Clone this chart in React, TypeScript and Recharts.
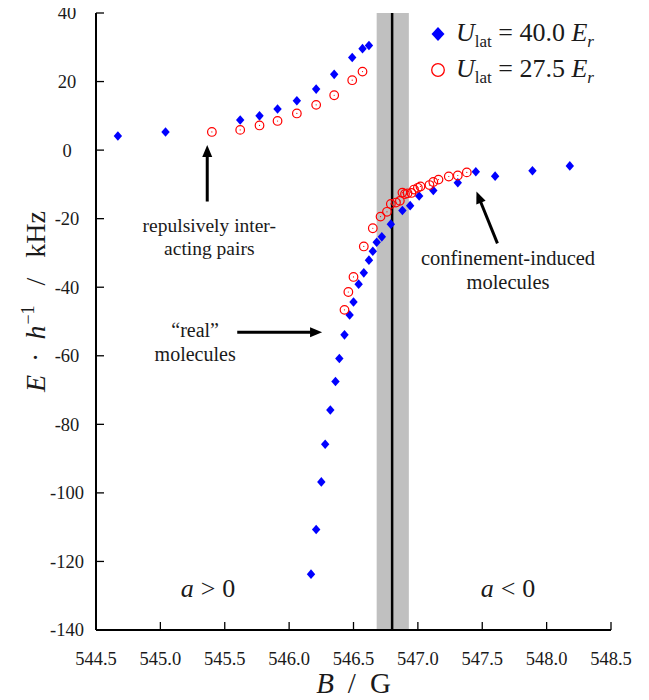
import React from 'react';
import {
  ScatterChart,
  Scatter,
  XAxis,
  YAxis,
  ReferenceArea,
  ReferenceLine,
  ReferenceDot,
  Legend,
} from 'recharts';

const FONT = 'Liberation Serif, "Times New Roman", Times, Tinos, "DejaVu Serif", serif';
const INK = '#1a1a1a';
const BLUE = '#0000ff';
const RED = '#ff0000';

// Tick labels
const xTicks = [544.5, 545.0, 545.5, 546.0, 546.5, 547.0, 547.5, 548.0, 548.5];
const yTicks = [-140, -120, -100, -80, -60, -40, -20, 0, 20, 40];

// U_lat = 40.0 E_r  (blue diamonds)
const blueUpperB = [544.67, 545.04, 545.62, 545.77, 545.91, 546.06, 546.21, 546.35, 546.49, 546.57, 546.62];
const blueUpperE = [4.1, 5.3, 8.8, 10.0, 12.0, 14.4, 17.8, 22.1, 27.0, 29.6, 30.5];
const blueLowerB = [546.17, 546.21, 546.25, 546.28, 546.32, 546.36, 546.39, 546.43, 546.47, 546.50, 546.54, 546.58, 546.62, 546.65, 546.68, 546.72, 546.79, 546.88, 546.94, 547.01, 547.12, 547.31, 547.45, 547.60, 547.89, 548.18];
const blueLowerE = [-123.7, -110.7, -96.8, -85.8, -75.8, -67.5, -60.8, -53.9, -48.1, -44.3, -39.1, -35.8, -32.1, -29.5, -26.9, -25.3, -21.6, -17.6, -16.2, -13.4, -11.8, -9.5, -6.3, -7.6, -6.0, -4.6];

// U_lat = 27.5 E_r  (red open circles)
const redUpperB = [545.40, 545.62, 545.77, 545.91, 546.06, 546.21, 546.35, 546.49, 546.57];
const redUpperE = [5.3, 5.9, 7.2, 8.5, 10.7, 13.2, 16.0, 20.4, 22.9];
const redLowerB = [546.43, 546.46, 546.50, 546.58, 546.65, 546.71, 546.76, 546.79, 546.83, 546.86, 546.88, 546.90, 546.92, 546.95, 546.97, 547.00, 547.02, 547.09, 547.12, 547.16, 547.24, 547.31, 547.38];
const redLowerE = [-46.6, -41.4, -37.0, -28.1, -22.8, -19.4, -18.0, -15.7, -15.3, -14.8, -12.4, -12.8, -12.6, -12.5, -11.5, -11.0, -10.6, -10.2, -9.3, -8.6, -7.7, -7.4, -6.5];

// Resonance position and width
const resonanceB = 546.8;
const resonanceLo = 546.68;
const resonanceHi = 546.93;

const toPoints = (bs: number[], es: number[]) => bs.map((b, i) => ({ b, e: es[i] }));
const blueData = [...toPoints(blueUpperB, blueUpperE), ...toPoints(blueLowerB, blueLowerE)];
const redData = [...toPoints(redUpperB, redUpperE), ...toPoints(redLowerB, redLowerE)];

const Diamond = (p: any) => {
  const { cx, cy } = p;
  if (cx == null || cy == null) return null;
  return (
    <path
      d={`M${cx},${cy - 4.8}L${cx + 4.2},${cy}L${cx},${cy + 4.8}L${cx - 4.2},${cy}Z`}
      fill={BLUE}
    />
  );
};

const OpenCircle = (p: any) => {
  const { cx, cy } = p;
  if (cx == null || cy == null) return null;
  return (
    <g>
      <circle cx={cx} cy={cy} r={4.3} fill="none" stroke={RED} strokeWidth={1.2} />
      <circle cx={cx} cy={cy} r={0.6} fill={RED} />
    </g>
  );
};

const Arrow = (p: any) => {
  const { x1, y1, x2, y2 } = p;
  if ([x1, y1, x2, y2].some((v) => v == null || isNaN(v))) return null;
  const dx = x2 - x1;
  const dy = y2 - y1;
  const L = Math.hypot(dx, dy) || 1;
  const ux = dx / L;
  const uy = dy / L;
  const hl = 12;
  const hw = 5;
  const bx = x2 - ux * hl;
  const by = y2 - uy * hl;
  return (
    <g>
      <line x1={x1} y1={y1} x2={bx + ux} y2={by + uy} stroke="#000" strokeWidth={3} />
      <polygon
        points={`${x2},${y2} ${bx - uy * hw},${by + ux * hw} ${bx + uy * hw},${by - ux * hw}`}
        fill="#000"
      />
    </g>
  );
};

const textLabel = (lines: string[], gap: number, size = 21) => (p: any) => {
  const { cx, cy } = p;
  if (cx == null || cy == null) return null;
  return (
    <text x={cx} y={cy} textAnchor="middle" fontFamily={FONT} fontSize={size} fill={INK}>
      {lines.map((l, i) => (
        <tspan key={i} x={cx} dy={i === 0 ? 0 : gap}>
          {l}
        </tspan>
      ))}
    </text>
  );
};

const signLabel = (op: string) => (p: any) => {
  const { cx, cy } = p;
  if (cx == null || cy == null) return null;
  return (
    <text x={cx} y={cy} textAnchor="middle" fontFamily={FONT} fontSize={26} fill={INK}>
      <tspan fontStyle="italic">a</tspan>
      <tspan dx={7}>{op}</tspan>
      <tspan dx={7}>0</tspan>
    </text>
  );
};

const BottomTick = (p: any) => {
  const { x, y, payload } = p;
  return (
    <g>
      <line x1={x} y1={y} x2={x} y2={y - 8} stroke="#000" strokeWidth={1.3} />
      <text x={x} y={y + 35} textAnchor="middle" fontFamily={FONT} fontSize={18.5} fill={INK}>
        {Number(payload.value).toFixed(1)}
      </text>
    </g>
  );
};

const TopTick = (p: any) => {
  const { x, y } = p;
  return <line x1={x} y1={y} x2={x} y2={y + 8} stroke="#000" strokeWidth={1.3} />;
};

const LeftTick = (p: any) => {
  const { x, y, payload } = p;
  return (
    <g>
      <line x1={x} y1={y} x2={x + 8} y2={y} stroke="#000" strokeWidth={1.3} />
      <text x={x - 29} y={y} dy="0.35em" textAnchor="middle" fontFamily={FONT} fontSize={18.5} fill={INK}>
        {String(payload.value)}
      </text>
    </g>
  );
};

const RightTick = (p: any) => {
  const { x, y } = p;
  return <line x1={x} y1={y} x2={x - 8} y2={y} stroke="#000" strokeWidth={1.3} />;
};

const XLabel = (props: any) => {
  const vb = props.viewBox || { x: 88, y: 630, width: 515, height: 40 };
  const cx = vb.x + vb.width / 2;
  const cy = vb.y + 63;
  return (
    <text x={cx} y={cy} textAnchor="middle" fontFamily={FONT} fontSize={29} fill={INK}>
      <tspan fontStyle="italic">B</tspan>
      <tspan dx={14}>/</tspan>
      <tspan dx={14}>G</tspan>
    </text>
  );
};

const YLabel = (props: any) => {
  const vb = props.viewBox || { x: 28, y: 13, width: 60, height: 617 };
  const cx = vb.x - 1;
  const cy = vb.y + vb.height / 2 - 20;
  return (
    <text
      x={cx}
      y={cy}
      textAnchor="middle"
      fontFamily={FONT}
      fontSize={28}
      fill={INK}
      transform={`rotate(-90, ${cx}, ${cy})`}
      dy="0.35em"
    >
      <tspan fontStyle="italic">E</tspan>
      <tspan dx={13}>·</tspan>
      <tspan dx={13} fontStyle="italic">h</tspan>
      <tspan fontSize={18} dy={-11} dx={1}>−1</tspan>
      <tspan dy={11} dx={20}>/</tspan>
      <tspan dx={20}>kHz</tspan>
    </text>
  );
};

const LegendContent = () => {
  const row: React.CSSProperties = { display: 'flex', alignItems: 'center', height: 36, whiteSpace: 'nowrap' };
  const sub: React.CSSProperties = { fontSize: 17, position: 'relative', top: 6 };
  return (
    <div style={{ fontFamily: FONT, fontSize: 26, color: INK, lineHeight: '36px' }}>
      <div style={row}>
        <svg width={20} height={20} style={{ flex: 'none' }}>
          <path d="M10,3L16.5,10L10,17L3.5,10Z" fill={BLUE} />
        </svg>
        <span style={{ marginLeft: 8 }}>
          <i>U</i>
          <span style={sub}>lat</span>
          {' = 40.0 '}
          <i>E</i>
          <i style={sub}>r</i>
        </span>
      </div>
      <div style={row}>
        <svg width={20} height={20} style={{ flex: 'none' }}>
          <circle cx={10} cy={10} r={6.3} fill="none" stroke={RED} strokeWidth={1.3} />
        </svg>
        <span style={{ marginLeft: 8 }}>
          <i>U</i>
          <span style={sub}>lat</span>
          {' = 27.5 '}
          <i>E</i>
          <i style={sub}>r</i>
        </span>
      </div>
    </div>
  );
};

export default function App() {
  return (
    <div style={{ width: 633, height: 698, marginTop: -8 }}>
      <ScatterChart width={633} height={698} margin={{ top: 13, right: 30, bottom: 28, left: 28 }}>
        <XAxis
          xAxisId={0}
          dataKey="b"
          type="number"
          domain={[544.5, 548.5]}
          ticks={xTicks}
          interval={0}
          height={40}
          tickSize={0}
          tickMargin={0}
          tickLine={false}
          tick={<BottomTick />}
          axisLine={{ stroke: '#000', strokeWidth: 2 }}
          label={{ content: <XLabel /> }}
        />
        <XAxis
          xAxisId="top"
          orientation="top"
          dataKey="b"
          type="number"
          domain={[544.5, 548.5]}
          ticks={xTicks}
          interval={0}
          height={0}
          tickSize={0}
          tickMargin={0}
          tickLine={false}
          tick={<TopTick />}
          axisLine={{ stroke: '#000', strokeWidth: 2 }}
        />
        <YAxis
          yAxisId={0}
          dataKey="e"
          type="number"
          domain={[-140, 40]}
          ticks={yTicks}
          interval={0}
          width={60}
          tickSize={0}
          tickMargin={0}
          tickLine={false}
          tick={<LeftTick />}
          axisLine={{ stroke: '#000', strokeWidth: 2 }}
          label={{ content: <YLabel /> }}
        />
        <YAxis
          yAxisId="right"
          orientation="right"
          dataKey="e"
          type="number"
          domain={[-140, 40]}
          ticks={yTicks}
          interval={0}
          width={0}
          tickSize={0}
          tickMargin={0}
          tickLine={false}
          tick={<RightTick />}
          axisLine={{ stroke: '#000', strokeWidth: 2 }}
        />

        <ReferenceArea
          x1={resonanceLo}
          x2={resonanceHi}
          fill="#c0c0c0"
          fillOpacity={1}
          stroke="none"
          ifOverflow="extendDomain"
        />
        <ReferenceLine x={resonanceB} stroke="#000" strokeWidth={2.5} />

        <Scatter name="blue" data={blueData} shape={Diamond} isAnimationActive={false} legendType="diamond" />
        <Scatter name="red" data={redData} shape={OpenCircle} isAnimationActive={false} legendType="circle" />
        <Scatter
          name="frame"
          data={[]}
          xAxisId="top"
          yAxisId="right"
          isAnimationActive={false}
          legendType="none"
        />

        {/* annotations */}
        <ReferenceLine segment={[{ x: 545.364, y: -15.0 }, { x: 545.364, y: 1.5 }]} shape={Arrow} />
        <ReferenceLine segment={[{ x: 545.597, y: -53.1 }, { x: 546.256, y: -53.1 }]} shape={Arrow} />
        <ReferenceLine segment={[{ x: 547.618, y: -27.2 }, { x: 547.455, y: -12.1 }]} shape={Arrow} />

        <ReferenceDot x={545.38} y={-23.8} r={0} shape={textLabel(['repulsively inter-', 'acting pairs'], 23, 19.5)} />
        <ReferenceDot x={545.27} y={-54.5} r={0} shape={textLabel(['“real”', 'molecules'], 24, 20)} />
        <ReferenceDot x={547.70} y={-33.5} r={0} shape={textLabel(['confinement-induced', 'molecules'], 24, 20.5)} />
        <ReferenceDot x={545.37} y={-130.4} r={0} shape={signLabel('>')} />
        <ReferenceDot x={547.70} y={-130.4} r={0} shape={signLabel('<')} />

        <Legend
          layout="horizontal"
          verticalAlign="middle"
          align="center"
          content={<LegendContent />}
          wrapperStyle={{ position: 'absolute', left: 420, top: 16, width: 210, height: 72 }}
        />
      </ScatterChart>
    </div>
  );
}
